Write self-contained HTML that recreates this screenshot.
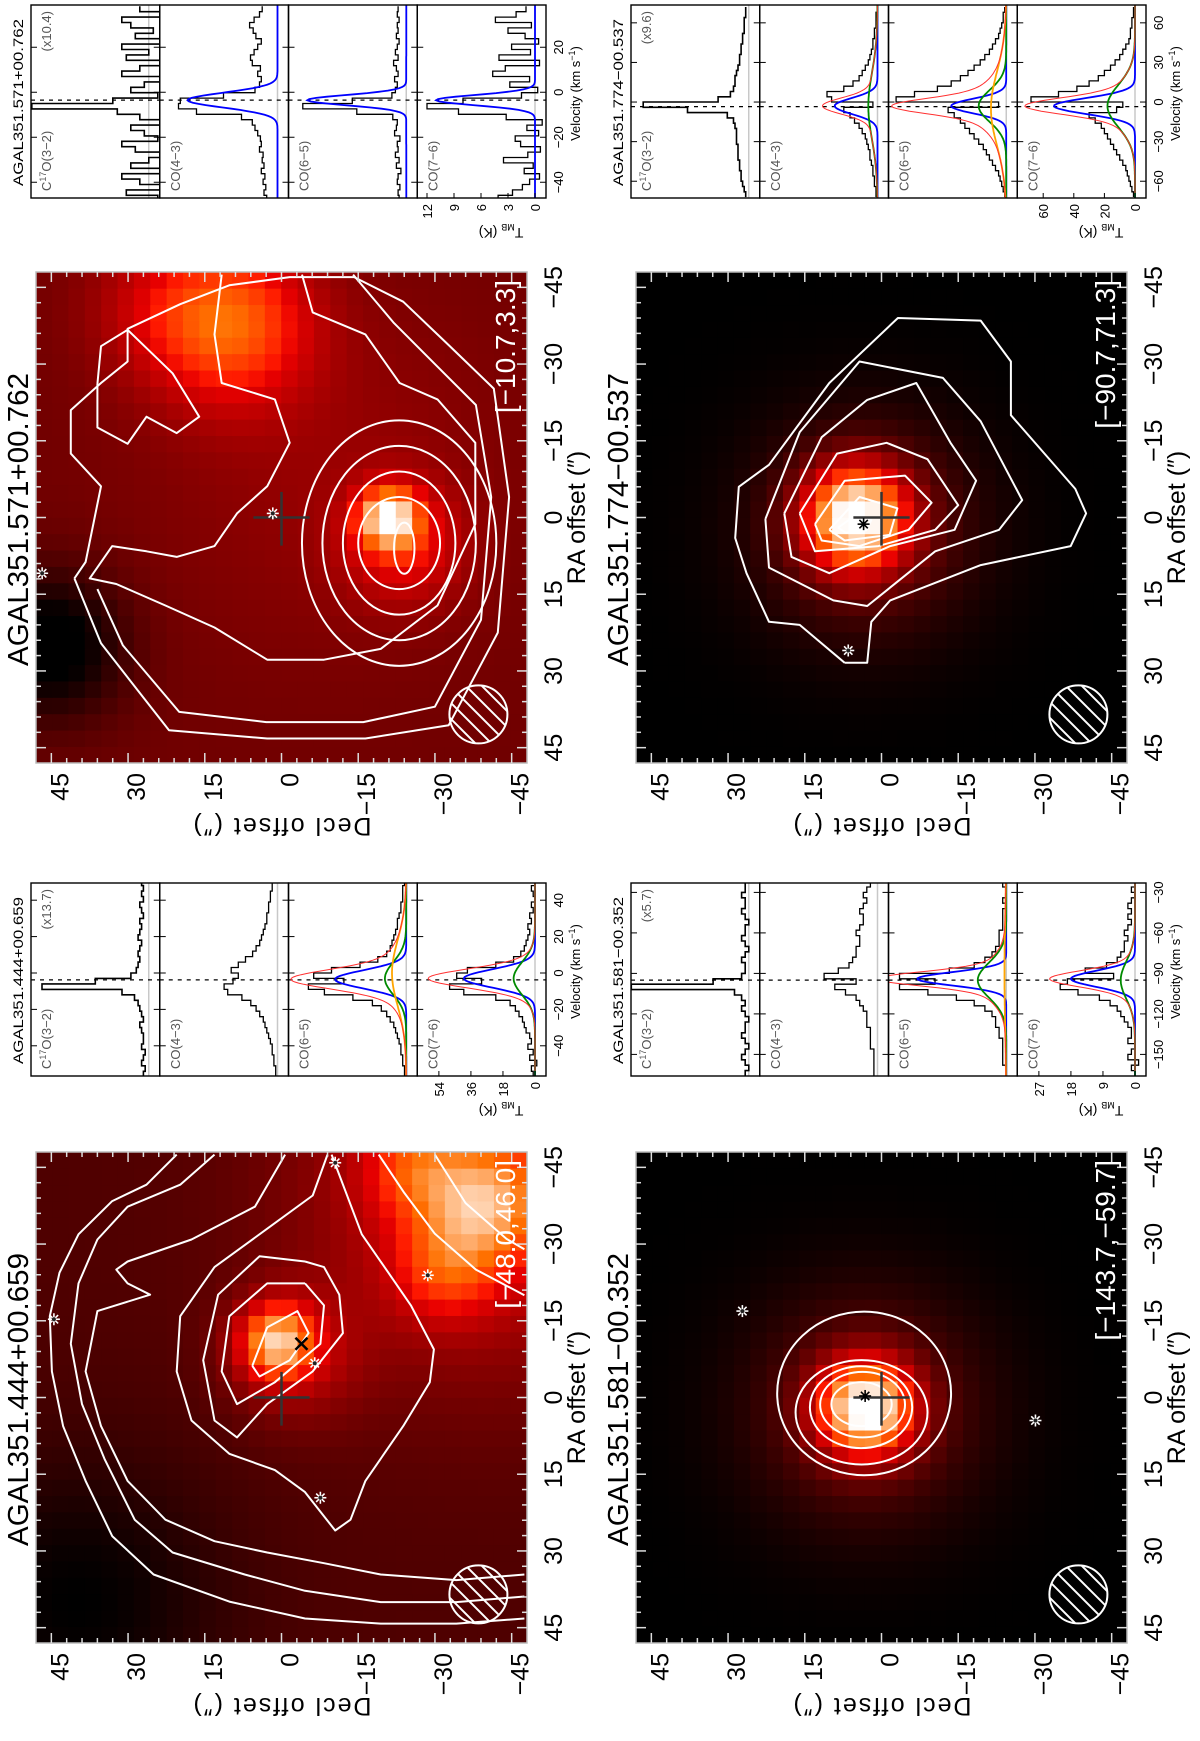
<!DOCTYPE html>
<html><head><meta charset="utf-8"><title>AGAL CO maps and spectra</title>
<style>
html,body{margin:0;padding:0;background:#fff;}
svg{display:block;font-family:"Liberation Sans",sans-serif;}
</style></head>
<body>
<svg id="fig" width="1200" height="1741" viewBox="0 0 1200 1741" xmlns="http://www.w3.org/2000/svg">
<rect x="0" y="0" width="1200" height="1741" fill="#fff"/>
<defs id="defs"></defs>
<g id="land" transform="translate(0,1741) rotate(-90)"></g>
</svg>
<script>
// ===================== MAP DATA (arcsec) =====================
const mapHalf = 48;
const mapSize = 491;
const mapGridN = 30;
// intensity model blobs: [ra, dec, amp, sigma]
const baseA = 0.17;
const blobsA = [[-40,-40,0.3,25],[-11,1,0.55,5],[-8,-3,0.2,9],[-38,-40,0.4,8],[-25,-32,0.25,7],[-45,-26,0.25,7],[40,40,-0.17,20]];
const baseB = 0.24;
const blobsB = [[25,45,-0.3,10],[-38,10,0.42,11],[-42,25,0.12,10],[0,-21,0.6,4],[5,-24,0.25,8],[-10,-10,0.08,25]];
const baseC = 0.0;
const blobsC = [[2,3,0.85,6.5],[2,3,0.25,16]];
const baseD = 0.0;
const blobsD = [[0,5,0.85,7],[2,3,0.25,15]];

// contours: [ra, dec] vertices
const contoursA = [
 [[-47.5,20.5],[-41.6,26.4],[-38.4,33.1],[-31.9,39.7],[-24.4,43.4],[-15.9,45.3],[-5.1,44.9],[5.6,42.7],[16.3,38.3],[27.1,33.1],[34.6,25],[39.9,10.2],[43.2,-4.6],[44.2,-19.4],[44.2,-34.2],[43.2,-47.5]],
 [[-47.5,13.1],[-41.6,19.8],[-37.3,30.1],[-30.9,36],[-22.3,39.7],[-10.5,41.2],[1.3,39],[12,34.6],[23.9,28.7],[30.3,21.3],[34.6,7.2],[37.8,-4.6],[40,-19.4],[40,-34.2],[38.9,-47.5]],
 [[-47.5,-0.7],[-37.3,5.2],[-30.9,17.6],[-26.6,30.1],[-25,32.3],[-22.3,30.1],[-20.1,25.7],[-16.9,36],[-5.1,38.3],[5.6,35.3],[16.3,30.1],[23.9,22.7],[28.1,13.1],[30.3,2.8],[32.4,-8.3],[34.6,-19.4],[35.7,-34.2],[34.6,-47.5]],
 [[-47.5,-9],[-39.5,-6.1],[-33,2.8],[-25.5,13.1],[-15.9,19.8],[-5.1,20.5],[4.5,17.6],[11,10.2],[14.2,1.3],[18.5,-4.6],[26,-10.5],[23.9,-13.5],[16.3,-16.4],[5.6,-23.8],[-3,-29],[-9.4,-29.8],[-18,-25.3],[-24.4,-20.9],[-31.9,-15.7],[-47.5,-9.8]],
 [[-26.6,-4.6],[-27.6,4.3],[-20.1,12.4],[-7.3,15.3],[4.5,13.1],[7.8,8.7],[1.3,2.8],[-5.1,-6.1],[-12.6,-12],[-20.1,-11.3],[-25.5,-8.3],[-26.6,-4.6]],
 [[-22.3,-4.6],[-22.3,2.8],[-15.9,10.2],[-5.1,11.7],[1.3,8.7],[-3,1.3],[-10.5,-7.6],[-18,-8.3],[-22.3,-4.6]],
 [[-6.2,5.7],[-13.7,2.8],[-16.9,-3.1],[-12.6,-5.3],[-7.3,-1.6],[-4.1,4.3],[-6.2,5.7]],
 [[-47.5,-19],[-40,-24],[-32,-30],[-25,-38],[-20,-47.5]],
 [[-47.5,-30],[-38,-36],[-31,-44],[-29,-47.5]]
];
const contoursB = [
 [[11.9,40.5],[24.6,35.3],[41.6,22],[43.2,2.8],[43.2,-16.4],[40.6,-32.7],[22.5,-42.3],[-4,-44.5],[-25.2,-41.5],[-33.7,-32.7],[-42.2,-23.8],[-47,-14.2],[-47,-1.6],[-45.4,10.2],[-41.7,19.8],[-36.9,30.1],[-30.5,30.1],[-26.3,35.3],[-21,41.2],[-12.5,41.2],[-6.1,35.3],[8.7,38.3],[11.9,40.5]],
 [[14,36],[25,31],[38,20],[40,3],[40,-16],[37,-30],[20,-39],[-4,-41],[-22,-38],[-30,-30],[-38,-22],[-47.5,-14]],
 [[-47.5,11.7],[-35.8,13.1],[-26.3,11.7],[-23.1,1.3],[-14.6,-1.6],[-6.1,2.8],[-0.8,8.7],[5.6,13.1],[7.7,20.5],[6.6,26.4],[5.6,33.1],[11.9,37.5],[13,32.3],[17.2,22.7],[21.5,13.1],[27.8,2.8],[27.8,-8.3],[25.7,-19.4],[17.2,-30.5],[1.3,-37.9],[-14.6,-37.9],[-23.1,-30.5],[-26.3,-23.1],[-35.8,-16.4],[-40.1,-6.1],[-47.5,-4]],
 [[-26.1,36],[-33.5,35.3],[-36.7,30.1],[-28.2,21.3],[-19.7,16.1],[-16.5,20.5],[-19.7,26.4],[-14.4,30.1],[-17.6,36],[-26.1,36]]
];
const contoursC = [];
const contoursD = [
 [[28.4,7.2],[21,16],[20.4,22],[10.9,26.4],[4,28.6],[-6,27.9],[-10.3,22],[-26.3,10.2],[-39,-3.2],[-38.5,-19.4],[-30.5,-25.3],[-20,-25.3],[-5.6,-37.9],[-0.8,-40],[5.6,-37],[9.3,-19.4],[16.2,-1.7],[20.4,2],[28.4,2.8],[28.4,7.2]],
 [[0.3,22.7],[-16.7,16],[-30.5,4.3],[-27.3,-12],[-18.8,-19.4],[-3.4,-27.5],[2.4,-23],[6.6,-10.5],[17.3,2.8],[16.2,9.4],[9.8,22],[0.3,22.7]],
 [[-0.8,19],[-15.7,11.7],[-23,2.8],[-26.3,-6.8],[-14.6,-13.5],[-7.2,-18.5],[2.4,-14.3],[5.6,-1.7],[10.9,10.2],[7.7,17.6],[-0.8,19]],
 [[-0.8,16],[-12.5,8.7],[-14.6,-1],[-11.4,-9],[-2.4,-15],[2.4,-10.5],[5.6,0.6],[6.6,13],[-0.8,16]],
 [[1.3,13],[-7.2,7.2],[-8.2,-4.6],[-2.9,-9.8],[2.4,-5.3],[5.6,4.3],[4.5,11.7],[1.3,13]],
 [[2.4,10.2],[-4,4.3],[-1.8,-3.1],[3.4,-1.6],[4.5,7.2],[2.4,10.2]],
 [[2,8.5],[-0.5,5],[0.5,2],[2.5,3],[3,7],[2,8.5]]
];
// elliptical contours: [ra0, dec0, aRA, bDec]
const ellipsesA = [];
const ellipsesB = [[5,-23,24,19],[5,-23,19,15],[5,-23,14,11],[5,-23,9,8],[6,-24,5,2]];
const ellipsesC = [[-0.8,3.4,16,17],[2.9,3.9,10.2,12.9],[1.9,4,8,10],[1.4,3.7,6.4,8.3],[1.3,3.9,4.3,5.9]];
const ellipsesD = [];
// markers
const starsWhiteA = [[-15.3,44.5],[-6.7,-6.5],[19.6,-7.6],[-23.9,-28.6],[-45.9,-10.5]];
const starsBlackA = [];
const xMarkA = [[-10.5,-3.9]];
const starsWhiteB = [[10.9,46.8],[-0.8,1.7]];
const starsBlackB = [];
const xMarkB = [];
const starsWhiteC = [[-16.9,27.2],[4.5,-30.1]];
const starsBlackC = [[-0.3,3.2]];
const xMarkC = [];
const starsWhiteD = [[26,6.5]];
const starsBlackD = [[1.3,3.5]];
const xMarkD = [];
const mapTicks = [45,30,15,0,-15,-30,-45];
const tickLabels = ['45','30','15','0','\u221215','\u221230','\u221245'];

// ===================== SPECTRA DATA =====================
const vStartA = -55.5, vStepA = 3;
const c17oA = [3,2,4,3,2,4,3,3,4,5,3,4,5,6,8,15,60,30,10,7,6,5,6,5,4,6,5,4,5,3,4,5,3,4,3,4];
const co43A = [1,1,2,2,3,3,4,5,6,7,8,10,12,15,20,28,30,25,22,26,22,18,14,12,10,9,8,7,6,6,5,5,4,4,3,3];
const co65A = [1,1,2,2,3,3,4,5,6,7,9,11,14,19,30,46,55,35,52,42,26,16,11,9,8,7,6,5,5,4,3,3,2,2,2,1];
const co76A = [1,2,-1,3,1,4,2,3,5,6,7,9,11,14,22,40,48,30,44,38,22,12,8,6,5,4,3,4,2,3,1,2,0,1,2,0];
const fit65A = [[40,-3.5,5],[12,-3,9],[8,0,18]];
const fit76A = [[40,-3,5],[12,-3,9]];
const core65A = [5,-3.5,5];
const core76A = [8,-3,5];
const vStartB = -47, vStepB = 2.4;
const c17oB = [-1,2.5,-2,1,3,-1.5,2,0,-2.5,1.5,3,-1,0.5,2,-2,1,3.5,13,4,-1,2,0.5,-2,3,1,-1.5,2.5,0,3,-2,1.5,-0.5,2,3,-1.5,1];
const co43B = [1.2,1.5,1.3,1.6,1.4,1.8,1.5,1.7,1.6,2.0,1.8,1.9,2.2,2.5,2.8,4.0,9.0,11.0,10.8,6.0,2.5,2.0,1.8,2.2,1.9,2.8,3.0,2.6,2.2,1.8,2.4,2.7,3.1,2.6,2.0,1.7];
const co65B = [0.8,0.9,0.7,1.0,0.9,0.6,1.1,0.8,1.2,0.9,1.0,0.7,1.3,1.1,1.0,1.5,5.5,11.5,6.0,1.6,1.2,1.0,1.3,0.9,1.1,1.4,0.9,1.2,1.0,0.8,1.1,0.9,1.0,0.8,1.0,0.9];
const co76B = [4.1,2.5,1.4,0.6,-0.5,1.2,0.2,3.5,0.8,-0.6,1.6,2.2,-0.4,0.9,-0.8,3.2,8.5,12.0,8.0,1.5,-0.3,2.8,0.6,4.7,3.3,-0.5,4.0,0.5,2.6,-0.4,1.1,3.0,0.4,4.4,2.1,1.0];
const fit43B = [[10,-3.5,3.3]];
const fit65B = [[11,-3.5,2.3]];
const fit76B = [[11,-3.5,2.3]];
const vStartC = -164, vStepC = 4;
const c17oC = [1,0,1,2,1,0,1,2,1,1,0,1,2,1,2,4,33,10,2,1,1,2,1,0,1,2,1,1,0,1,2,1,1,2,1,1];
const co43C = [1,1,1,1,1,2,2,2,2,3,3,3,4,5,6,9,12,6,15,11,8,7,6,6,5,5,6,5,4,4,5,4,3,4,3,2];
const co65C = [0,0,1,1,1,1,1,2,2,3,3,4,6,9,14,22,30,20,30,16,9,6,4,3,2,2,2,1,1,1,1,0,1,0,0,1];
const co76C = [0,1,-1,2,1,0,2,1,1,2,3,4,5,7,10,16,21,19,6,14,8,5,4,3,3,2,3,2,1,2,1,2,1,0,1,0];
const fit65C = [[25,-94,5],[8,-95,13],[0.5,-90,40]];
const fit76C = [[18,-94,6],[4,-95,14]];
const core65C = [3,-94,5];
const core76C = [2,-94,5];
const vStartD = -70, vStepD = 4;
const c17oD = [2,3,4,5,5,6,6,7,7,7,8,8,8,9,10,14,40,69,20,12,10,9,9,8,7,6,6,5,5,4,4,3,3,3,2,2];
const co43D = [1,1,2,2,3,3,4,5,5,6,7,8,10,12,15,18,22,3,30,33,22,16,12,10,8,6,5,4,3,3,2,2,1,1,1,0];
const co65D = [1,2,3,4,5,7,9,11,13,15,18,21,24,27,30,34,38,5,72,60,45,36,30,25,21,17,14,11,9,7,5,4,3,2,2,1];
const co76D = [1,2,3,4,5,6,8,10,12,14,16,18,20,22,26,30,12,8,68,50,38,30,24,20,16,13,10,8,6,4,3,3,2,2,1,1];
const fit43D = [[28,-3,6],[6,-3,25]];
const fit65D = [[36,-3,5.5],[18,-3,12],[10,-5,28]];
const fit76D = [[53,-3,6],[18,-3,16]];
const core43D = [2,-3,6];
const core65D = [11,-3,5];
const core76D = [1,-3,6];
const vTicksA = [-40,-20,0,20,40];
const vTicksB = [-40,-20,0,20];
const vTicksC = [-150,-120,-90,-60,-30];
const vTicksD = [-60,-30,0,30,60];
const kTicksA = [0,18,36,54];
const kTicksB = [0,3,6,9,12];
const kTicksC = [0,9,18,27];
const kTicksD = [0,20,40,60];
const lineNames = ['C17O(3\u22122)','CO(4\u22123)','CO(6\u22125)','CO(7\u22126)'];

// ===================== DRAWING =====================
const NS = 'http://www.w3.org/2000/svg';
const land = document.getElementById('land');
const defs = document.getElementById('defs');
function mk(tag, attrs, parent){
  const e = document.createElementNS(NS, tag);
  for (const k in attrs) e.setAttribute(k, attrs[k]);
  parent.appendChild(e);
  return e;
}
function clamp(x){ return x < 0 ? 0 : (x > 1 ? 1 : x); }
function heat(t){
  t = clamp(t);
  const r = Math.round(255*clamp(t/0.55)), g = Math.round(255*clamp((t-0.5)/0.5)), b = Math.round(255*clamp((t-0.72)/0.28));
  return 'rgb('+r+','+g+','+b+')';
}
function field(base, blobs, ra, dec){
  let v = base;
  for (const b of blobs){ const d2 = (ra-b[0])*(ra-b[0])+(dec-b[1])*(dec-b[1]); v += b[2]*Math.exp(-d2/(2*b[3]*b[3])); }
  return v;
}
let clipId = 0;
function drawStar(g, x, y, color, name){
  const s = mk('g', {}, g);
  
  
  const r = 6;
  const col = color === 'white' ? '#fff' : '#000';
  mk('line', {x1:x-r,y1:y,x2:x+r,y2:y,stroke:col,'stroke-width':1.6}, s);
  mk('line', {x1:x,y1:y-r,x2:x,y2:y+r,stroke:col,'stroke-width':1.6}, s);
  mk('line', {x1:x-r*0.7,y1:y-r*0.7,x2:x+r*0.7,y2:y+r*0.7,stroke:col,'stroke-width':1.6}, s);
  mk('line', {x1:x-r*0.7,y1:y+r*0.7,x2:x+r*0.7,y2:y-r*0.7,stroke:col,'stroke-width':1.6}, s);
  mk('circle', {cx:x,cy:y,r:2,fill:color==='white'?'#222':'#000'}, s);
}
function drawMap(m){
  const g = mk('g', {}, land);
  
  
  const s = mapSize/(2*mapHalf);
  const X = ra => m.u0 + (mapHalf - ra)*s;
  const Y = dec => m.v0 + (mapHalf - dec)*s;
  const cid = 'clip' + (clipId++);
  const cp = mk('clipPath', {id:cid}, defs);
  mk('rect', {x:m.u0,y:m.v0,width:mapSize,height:mapSize}, cp);
  const hm = mk('g', {'clip-path':'url(#'+cid+')'}, g);
  
  
  const cell = 2*mapHalf/mapGridN;
  for (let i=0;i<mapGridN;i++){
    for (let j=0;j<mapGridN;j++){
      const ra = mapHalf - (i+0.5)*cell, dec = mapHalf - (j+0.5)*cell;
      const t = field(m.base, m.blobs, ra, dec);
      const r = mk('rect', {x:X(ra+cell/2)-0.3,y:Y(dec+cell/2)-0.3,width:cell*s+0.6,height:cell*s+0.6,fill:heat(t)}, hm);
      
      
    }
  }
  const cg = mk('g', {'clip-path':'url(#'+cid+')',fill:'none',stroke:'#fff','stroke-width':2,'stroke-linejoin':'round'}, g);
  
  
  for (const c of m.contours){
    const pl = mk('polyline', {points:c.map(p => X(p[0]).toFixed(1)+','+Y(p[1]).toFixed(1)).join(' ')}, cg);
    
    
  }
  for (const e of m.ellipses){
    const el = mk('ellipse', {cx:X(e[0]),cy:Y(e[1]),rx:e[2]*s,ry:e[3]*s}, cg);
    
    
  }
  const cross = mk('g', {stroke:'#333','stroke-width':2.5}, g);
  
  
  mk('line', {x1:X(5.5),y1:Y(0),x2:X(-5),y2:Y(0)}, cross);
  mk('line', {x1:X(0),y1:Y(5.5),x2:X(0),y2:Y(-5.5)}, cross);
  for (const p of m.starsW) drawStar(g, X(p[0]), Y(p[1]), 'white', 'source-marker');
  for (const p of m.starsK) drawStar(g, X(p[0]), Y(p[1]), 'black', 'source-marker');
  for (const p of m.xMarks){
    const xg = mk('g', {stroke:'#000','stroke-width':2.5}, g);
    
    
    mk('line', {x1:X(p[0])-6,y1:Y(p[1])-6,x2:X(p[0])+6,y2:Y(p[1])+6}, xg);
    mk('line', {x1:X(p[0])-6,y1:Y(p[1])+6,x2:X(p[0])+6,y2:Y(p[1])-6}, xg);
  }
  const bx = X(38.5), by = Y(-38.5), br = 29;
  const bid = 'clip' + (clipId++);
  const bcp = mk('clipPath', {id:bid}, defs);
  mk('circle', {cx:bx,cy:by,r:br}, bcp);
  const bg = mk('g', {}, g);
  
  
  const hatch = mk('g', {'clip-path':'url(#'+bid+')',stroke:'#fff','stroke-width':2}, bg);
  for (let k=-4;k<=4;k++){
    const o = k*8;
    mk('line', {x1:bx-40+o,y1:by+40+o,x2:bx+40+o,y2:by-40+o}, hatch);
  }
  mk('circle', {cx:bx,cy:by,r:br,fill:'none',stroke:'#fff','stroke-width':2}, bg);
  const fr = mk('rect', {x:m.u0,y:m.v0,width:mapSize,height:mapSize,fill:'none',stroke:'#bbb','stroke-width':1.5}, g);
  
  
  const tg = mk('g', {stroke:'#ddd','stroke-width':1.5}, g);
  
  
  for (let a=-45;a<=45;a+=3){
    const len = (a%15===0) ? 10 : 5;
    const x = X(a), y = Y(a);
    mk('line', {x1:x,y1:m.v0,x2:x,y2:m.v0+len}, tg);
    mk('line', {x1:x,y1:m.v0+mapSize,x2:x,y2:m.v0+mapSize-len}, tg);
    mk('line', {x1:m.u0,y1:y,x2:m.u0+len,y2:y}, tg);
    mk('line', {x1:m.u0+mapSize,y1:y,x2:m.u0+mapSize-len,y2:y}, tg);
  }
  for (let k=0;k<mapTicks.length;k++){
    const t1 = mk('text', {x:X(mapTicks[k]),y:m.v0+mapSize+35,'font-size':25,'text-anchor':'middle',fill:'#000'}, g);
    t1.textContent = tickLabels[k];
    
    
    const t2 = mk('text', {x:m.u0-10,y:Y(mapTicks[k])+17,'font-size':25,'text-anchor':'end',fill:'#000'}, g);
    t2.textContent = tickLabels[k];
    
    
  }
  const xl = mk('text', {x:m.u0+mapSize/2,y:m.v0+mapSize+58,'font-size':25,'text-anchor':'middle',fill:'#000'}, g);
  xl.textContent = 'RA offset (\u2033)';
  
  
  const yl = mk('text', {x:0,y:0,'font-size':25,'text-anchor':'middle',fill:'#000',transform:'translate('+(m.u0-55)+','+(m.v0+mapSize/2)+') rotate(-90)','letter-spacing':'2'}, g);
  yl.textContent = 'Decl offset (\u2033)';
  
  
  const ti = mk('text', {x:m.u0+97,y:m.v0-8,'font-size':29,fill:'#000',textLength:293,lengthAdjust:'spacingAndGlyphs'}, g);
  ti.textContent = m.title;
  
  
  const lb = mk('text', {x:m.u0+mapSize-8,y:m.v0+mapSize-12,'font-size':28,'text-anchor':'end',fill:'#fff'}, g);
  lb.textContent = m.label;
  
  
}

const specW = 193, panelH = 128.75, zeroOff = 11;
function gauss(comps, v){
  let s = 0;
  for (const c of comps) s += c[0]*Math.exp(-(v-c[1])*(v-c[1])/(2*c[2]*c[2]));
  return s;
}
const fitColors = ['#0000ff','#008a00','#ffa500'];
function drawSpec(sp){
  const g = mk('g', {}, land);
  
  
  const U = v => sp.u0 + (v - sp.vmin)*sp.pxV;
  for (let p=0;p<4;p++){
    const top = sp.v0 + p*panelH, bot = top + panelH;
    const Y = k => bot - zeroOff - k*sp.pxK;
    const cid = 'clip' + (clipId++);
    const cp = mk('clipPath', {id:cid}, defs);
    mk('rect', {x:sp.u0,y:top,width:specW,height:panelH}, cp);
    const pg = mk('g', {'clip-path':'url(#'+cid+')'}, g);
    
    
    const zl = mk('line', {x1:sp.u0,y1:Y(0),x2:sp.u0+specW,y2:Y(0),stroke:'#c8c8c8','stroke-width':1.5}, pg);
    
    
    const dl = mk('line', {x1:U(sp.vsys),y1:top,x2:U(sp.vsys),y2:bot,stroke:'#000','stroke-width':1.3,'stroke-dasharray':'4,5'}, pg);
    
    
    const data = sp.lines[p];
    let d = '';
    for (let i=0;i<data.length;i++){
      const vc = sp.vStart + i*sp.vStep;
      const y = Y(data[i]).toFixed(1);
      d += (i===0?'M':'L') + U(vc - sp.vStep/2).toFixed(1) + ',' + y + 'L' + U(vc + sp.vStep/2).toFixed(1) + ',' + y;
    }
    const hp = mk('path', {d:d,fill:'none',stroke:'#000','stroke-width':p===0?1.6:1.3}, pg);
    
    
    const comps = sp.fits[p];
    if (comps && comps.length){
      const N = 160;
      for (let c=0;c<comps.length;c++){
        let fd = '';
        for (let k=0;k<=N;k++){
          const v = sp.vmin + k*(specW/sp.pxV)/N;
          fd += (k===0?'M':'L') + U(v).toFixed(1) + ',' + Y(gauss([comps[c]], v)).toFixed(1);
        }
        const fp = mk('path', {d:fd,fill:'none',stroke:fitColors[c],'stroke-width':1.8}, pg);
        
        
      }
      if (comps.length > 1 || sp.cores[p]){
        const all = sp.cores[p] ? comps.concat([sp.cores[p]]) : comps;
        let fd = '';
        for (let k=0;k<=N;k++){
          const v = sp.vmin + k*(specW/sp.pxV)/N;
          fd += (k===0?'M':'L') + U(v).toFixed(1) + ',' + Y(gauss(all, v)).toFixed(1);
        }
        const fp = mk('path', {d:fd,fill:'none',stroke:'#ff3030','stroke-width':1}, pg);
        
        
      }
    }
    const fr = mk('rect', {x:sp.u0,y:top,width:specW,height:panelH,fill:'none',stroke:'#000','stroke-width':1.4}, g);
    
    
    for (const vt of sp.vTicks){
      mk('line', {x1:U(vt),y1:bot,x2:U(vt),y2:bot-6,stroke:'#000','stroke-width':1}, g);
      mk('line', {x1:U(vt),y1:top,x2:U(vt),y2:top+6,stroke:'#000','stroke-width':1}, g);
    }
    const pl = mk('text', {x:sp.u0+7,y:top+20,'font-size':13,fill:'#555'}, g);
    if (p===0){
      pl.innerHTML = 'C<tspan dy="-5" font-size="9">17</tspan><tspan dy="5">O(3\u22122)</tspan>';
    } else {
      pl.textContent = lineNames[p];
    }
    
    
  }
  const bottom = sp.v0 + 4*panelH;
  const Yb = k => bottom - zeroOff - k*sp.pxK;
  for (const vt of sp.vTicks){
    const t = mk('text', {x:U(vt),y:bottom+17,'font-size':13,'text-anchor':'middle',fill:'#000'}, g);
    t.textContent = vt < 0 ? '\u2212' + (-vt) : String(vt);
    
    
  }
  for (const kt of sp.kTicks){
    mk('line', {x1:sp.u0,y1:Yb(kt),x2:sp.u0+5,y2:Yb(kt),stroke:'#000','stroke-width':1}, g);
    const t = mk('text', {x:sp.u0-6,y:Yb(kt)+5,'font-size':13,'text-anchor':'end',fill:'#000'}, g);
    t.textContent = String(kt);
    
    
  }
  const vl = mk('text', {x:sp.u0+specW/2+8,y:bottom+34,'font-size':13,'text-anchor':'middle',fill:'#000'}, g);
  vl.innerHTML = 'Velocity (km s<tspan dy="-5" font-size="9">\u22121</tspan><tspan dy="5">)</tspan>';
  
  
  const tl = mk('text', {x:0,y:0,'font-size':14,'text-anchor':'middle',fill:'#000',transform:'translate('+(sp.u0-30)+','+(bottom-45)+') rotate(-90)'}, g);
  tl.innerHTML = 'T<tspan dy="4" font-size="9">MB</tspan><tspan dy="-4"> (K)</tspan>';
  
  
  const st = mk('text', {x:sp.u0+12,y:sp.v0-8,'font-size':14,fill:'#000',textLength:167,lengthAdjust:'spacingAndGlyphs'}, g);
  st.textContent = sp.title;
  
  
  const sc = mk('text', {x:sp.u0+specW-6,y:sp.v0+20,'font-size':13,'text-anchor':'end',fill:'#555'}, g);
  sc.textContent = sp.scale;
  
  
}

const maps = [
 {name:'map-agal351-444', u0:98, v0:36, base:baseA, blobs:blobsA, contours:contoursA, ellipses:ellipsesA, starsW:starsWhiteA, starsK:starsBlackA, xMarks:xMarkA, title:'AGAL351.444+00.659', label:'[\u221248.0,46.0]'},
 {name:'map-agal351-571', u0:978, v0:36, base:baseB, blobs:blobsB, contours:contoursB, ellipses:ellipsesB, starsW:starsWhiteB, starsK:starsBlackB, xMarks:xMarkB, title:'AGAL351.571+00.762', label:'[\u221210.7,3.3]'},
 {name:'map-agal351-581', u0:98, v0:636, base:baseC, blobs:blobsC, contours:contoursC, ellipses:ellipsesC, starsW:starsWhiteC, starsK:starsBlackC, xMarks:xMarkC, title:'AGAL351.581\u221200.352', label:'[\u2212143.7,\u221259.7]'},
 {name:'map-agal351-774', u0:978, v0:636, base:baseD, blobs:blobsD, contours:contoursD, ellipses:ellipsesD, starsW:starsWhiteD, starsK:starsBlackD, xMarks:xMarkD, title:'AGAL351.774\u221200.537', label:'[\u221290.7,71.3]'}
];
const specs = [
 {name:'spectra-agal351-444', u0:665, v0:31, vmin:-56.6, pxV:1.82, pxK:1.78, vsys:-3.8, vStart:vStartA, vStep:vStepA, lines:[c17oA,co43A,co65A,co76A], fits:[null,null,fit65A,fit76A], cores:[null,null,core65A,core76A], vTicks:vTicksA, kTicks:kTicksA, title:'AGAL351.444+00.659', scale:'(x13.7)'},
 {name:'spectra-agal351-571', u0:1543, v0:31, vmin:-47, pxV:2.25, pxK:9, vsys:-3.5, vStart:vStartB, vStep:vStepB, lines:[c17oB,co43B,co65B,co76B], fits:[null,fit43B,fit65B,fit76B], cores:[null,null,null,null], vTicks:vTicksB, kTicks:kTicksB, title:'AGAL351.571+00.762', scale:'(x10.4)'},
 {name:'spectra-agal351-581', u0:665, v0:631, vmin:-166, pxV:1.35, pxK:3.56, vsys:-95, vStart:vStartC, vStep:vStepC, lines:[c17oC,co43C,co65C,co76C], fits:[null,null,fit65C,fit76C], cores:[null,null,core65C,core76C], vTicks:vTicksC, kTicks:kTicksC, title:'AGAL351.581\u221200.352', scale:'(x5.7)'},
 {name:'spectra-agal351-774', u0:1543, v0:631, vmin:-72.7, pxV:1.32, pxK:1.53, vsys:-3.5, vStart:vStartD, vStep:vStepD, lines:[c17oD,co43D,co65D,co76D], fits:[null,fit43D,fit65D,fit76D], cores:[null,core43D,core65D,core76D], vTicks:vTicksD, kTicks:kTicksD, title:'AGAL351.774\u221200.537', scale:'(x9.6)'}
];
maps.forEach(drawMap);
specs.forEach(drawSpec);
</script>
</body></html>
